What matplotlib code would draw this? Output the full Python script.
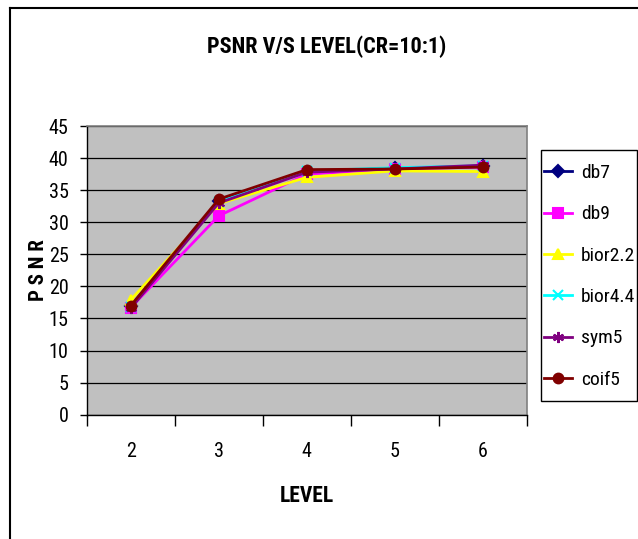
import matplotlib
matplotlib.use("Agg")
import matplotlib.pyplot as plt
from matplotlib.lines import Line2D
from matplotlib.patches import Rectangle

plt.rcParams['font.family'] = ['Roboto Condensed', 'Liberation Sans', 'DejaVu Sans']

levels = ["2", "3", "4", "5", "6"]
series_names = ["db7", "db9", "bior2.2", "bior4.4", "sym5", "coif5"]
db7 = [16.9, 33.3, 37.9, 38.4, 38.7]
db9 = [16.7, 31.0, 37.5, 38.3, 38.6]
bior22 = [17.9, 32.9, 37.0, 38.0, 37.9]
bior44 = [16.8, 33.2, 38.0, 38.5, 38.8]
sym5 = [16.6, 33.0, 37.8, 38.3, 38.9]
coif5 = [17.0, 33.6, 38.2, 38.3, 38.6]
yticks = [0, 5, 10, 15, 20, 25, 30, 35, 40, 45]

colors = ["#000080", "#FF00FF", "#FFFF00", "#00FFFF", "#800080", "#800000"]
markers = ["D", "s", "^", "x", (6, 2, 0), "o"]
msizes = [6, 6.5, 7, 7, 8, 7]

W, H = 638, 539
fig = plt.figure(figsize=(W / 100, H / 100), dpi=100)
ax = fig.add_axes([86.7 / W, 1 - 414.7 / H, (527 - 86.7) / W, (414.7 - 126) / H])
ax.set_facecolor("#C0C0C0")

x = list(range(len(levels)))
for name, vals, c, m, ms in zip(series_names, [db7, db9, bior22, bior44, sym5, coif5], colors, markers, msizes):
    ax.plot(x, vals, color=c, lw=2.0, marker=m, markersize=ms, markeredgecolor=c,
            markerfacecolor=c, markeredgewidth=1.5, label=name, zorder=3, clip_on=False)

ax.set_xlim(-0.5, len(levels) - 0.5)
ax.set_ylim(0, 45)
ax.set_yticks(yticks)
ax.set_yticklabels([str(v) for v in yticks], fontsize=14.5)
ax.set_xticks(x)
ax.set_xticklabels(levels, fontsize=14.5)
ax.set_xticks([i - 0.5 for i in range(len(levels) + 1)], minor=True)
ax.tick_params(axis='x', which='major', length=0, pad=20)
ax.tick_params(axis='x', which='minor', length=8, width=1, direction='out', color='black')
ax.tick_params(axis='y', length=5, width=1, direction='out', pad=8, color='black')
ax.yaxis.grid(True, color='black', lw=0.9, zorder=1)
ax.set_axisbelow(True)
for s in ['top', 'right']:
    ax.spines[s].set_color('#808080')
    ax.spines[s].set_linewidth(1.2)
for s in ['left', 'bottom']:
    ax.spines[s].set_color('black')
    ax.spines[s].set_linewidth(1.0)

fig.text(327 / W, 1 - 46.7 / H, "PSNR V/S LEVEL(CR=10:1)", fontsize=16, fontweight='bold',
         ha='center', va='center')
fig.text(39 / W, 1 - 270 / H, "P S N R", fontsize=15, fontweight='bold',
         ha='center', va='center', rotation=90)
fig.text(307 / W, 1 - 496 / H, "LEVEL", fontsize=15.5, fontweight='bold',
         ha='center', va='center')

# legend box
fig.add_artist(Rectangle((541 / W, 1 - 401 / H), (637 - 541) / W, (401 - 150) / H,
                         transform=fig.transFigure, facecolor='white', edgecolor='black',
                         lw=1.0, zorder=2))
handles, labels = ax.get_legend_handles_labels()
leg = fig.legend(handles, labels, loc='upper left', bbox_to_anchor=(544 / W, 1 - 164 / H),
                 bbox_transform=fig.transFigure, fontsize=14, frameon=False,
                 borderpad=0, labelspacing=1.2, handlelength=1.45, handletextpad=0.45,
                 borderaxespad=0)
leg.set_zorder(5)

# outer chart border (cropped at right and bottom)
fig.add_artist(Line2D([10 / W, 1.0], [1 - 8 / H, 1 - 8 / H], transform=fig.transFigure,
                      color='black', lw=1.5))
fig.add_artist(Line2D([10 / W, 10 / W], [0, 1 - 8 / H], transform=fig.transFigure,
                      color='black', lw=1.5))

fig.savefig("out.png", dpi=100)
